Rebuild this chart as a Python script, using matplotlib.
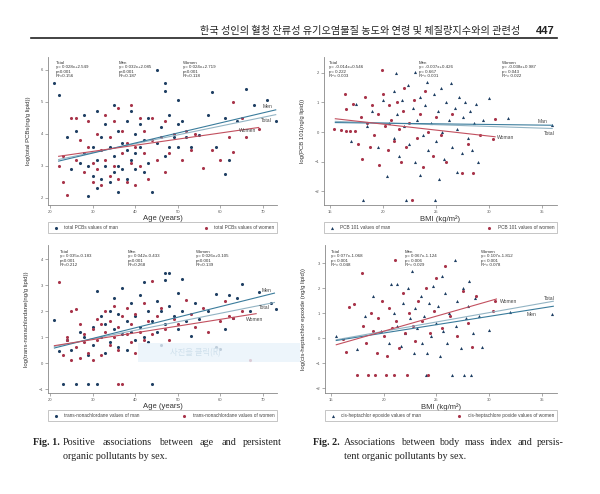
import numpy as np
import matplotlib
matplotlib.use("Agg")
import matplotlib.pyplot as plt
from matplotlib.patches import Rectangle

plt.rcParams['font.family'] = ['Liberation Sans', 'DejaVu Sans']

W, H = 600, 494

# ---- data (age / BMI, log concentration) ----
# Fig 1 top: total PCBs vs age
pcb_men = [(21,5.6),(22,5.2),(24,3.9),(25,2.9),(26,4.1),(27,3.1),(28,4.6),(28,3.4),(29,2.05),(29,3.0),
           (30,3.6),(30,2.7),(31,4.7),(31,3.2),(31,2.3),(32,3.9),(32,2.6),(33,4.3),(33,3.0),(34,3.6),
           (34,2.5),(35,4.9),(35,3.3),(35,2.8),(36,4.1),(36,3.0),(36,2.2),(37,3.7),(37,2.9),(38,4.4),
           (38,3.5),(38,2.6),(39,4.7),(39,3.2),(40,4.0),(40,3.4),(40,2.9),(41,4.3),(41,3.6),(42,3.8),
           (42,2.8),(43,4.5),(43,3.1),(44,2.2),(45,6.0),(45,3.7),(46,4.2),(47,5.6),(47,5.35),(47,3.3),
           (48,4.6),(48,3.6),(49,3.9),(50,5.05),(50,4.3),(50,3.6),(51,4.4),(52,3.9),(53,3.6),(55,3.95),
           (57,4.6),(58,5.3),(59,3.6),(61,2.75),(61,4.5),(62,3.2),(64,4.4),(66,5.4),(68,4.9),(71,5.07),(73,4.4)]
pcb_women = [(22,3.0),(23,3.3),(23,2.5),(24,2.1),(25,4.5),(26,4.5),(26,3.2),(27,3.8),(28,2.8),(29,3.6),
             (29,4.4),(30,3.1),(30,2.5),(31,4.0),(31,2.9),(32,3.5),(32,2.4),(33,4.6),(33,3.2),(34,2.7),
             (34,3.9),(35,3.0),(35,4.4),(36,4.8),(36,2.6),(37,3.4),(37,4.1),(38,2.5),(38,3.7),(39,4.9),
             (39,3.1),(40,3.6),(40,2.4),(41,4.5),(41,3.0),(42,3.4),(42,4.1),(43,2.6),(44,3.8),(44,4.5),
             (45,3.2),(46,3.9),(47,4.4),(47,2.8),(48,3.4),(49,4.0),(51,3.2),(52,4.1),(53,3.5),(54,4.0),
             (56,2.95),(58,3.5),(60,3.2),(62,3.9),(63,5.0),(63,3.45),(65,4.5),(66,3.9),(69,4.15)]

# Fig 2 top: PCB 101 vs BMI
p101_men = [(17.0,-0.3),(17.5,0.95),(18.1,-2.3),(18.5,0.2),(19.0,0.7),(19.5,-0.5),(20.0,1.1),(20.4,-1.5),
            (20.6,0.3),(21.0,1.4),(21.0,-0.2),(21.2,2.0),(21.3,0.6),(21.5,-0.8),(21.8,1.1),(22.0,0.2),
            (22.2,-2.3),(22.4,1.6),(22.5,-0.4),(22.8,0.8),(23.0,2.03),(23.0,-1.0),(23.2,0.4),(23.5,1.2),
            (23.5,-1.45),(23.8,-0.1),(24.0,0.9),(24.2,1.7),(24.3,-0.6),(24.5,0.3),(24.8,1.3),(24.9,-2.3),
            (25.0,-0.3),(25.2,0.7),(25.3,-1.6),(25.5,1.5),(25.6,0.0),(25.8,-0.9),(26.0,1.0),(26.2,0.4),
            (26.4,1.65),(26.5,-0.5),(26.8,0.8),(27.0,-1.35),(27.0,0.1),(27.2,1.2),(27.5,-0.7),(27.6,0.5),
            (27.8,1.0),(28.0,-0.2),(28.2,0.7),(28.4,-0.6),(28.6,0.3),(28.8,0.95),(29.0,-1.0),(29.5,0.4),
            (30.0,1.16),(31.8,0.49),(36.0,0.23)]
p101_women = [(15.4,0.1),(16.0,0.06),(16.5,0.05),(16.9,0.05),(17.4,0.03),(16.4,1.28),(16.5,0.77),(17.2,0.94),
              (17.6,-0.4),(17.9,0.5),(18.0,-0.9),(18.3,1.2),(18.5,0.3),(18.8,-0.5),(19.0,0.9),(19.2,-0.1),
              (19.5,0.6),(19.6,-1.1),(19.9,2.1),(20.0,1.3),(20.2,0.2),(20.5,-0.6),(20.6,0.9),(20.8,0.4),
              (21.0,-0.3),(21.3,1.0),(21.5,0.1),(21.7,-1.0),(21.9,0.7),(22.0,1.5),(22.2,-0.5),(22.5,0.3),
              (22.7,-2.3),(22.9,1.1),(23.2,-0.2),(23.5,0.6),(23.8,-1.2),(24.0,1.4),(24.3,0.0),(24.7,-0.8),
              (25.0,0.5),(25.5,-0.1),(26.0,-1.0),(26.5,0.6),(27.5,-1.4),(28.0,-0.4),(28.5,-1.4),(29.2,-0.1),
              (30.4,-0.23),(30.6,0.45)]

# Fig 1 bottom: trans-nonachlordane vs age
tnc_men = [(21,1.64),(22,0.45),(23,-0.8),(24,0.9),(25,0.5),(26,-0.8),(27,1.2),(28,1.0),(29,-0.8),(29,0.3),
           (30,1.4),(30,0.7),(31,-0.8),(31,2.76),(32,1.8),(32,1.0),(33,0.4),(33,1.5),(34,2.0),(34,0.8),
           (35,1.3),(35,2.5),(36,0.6),(36,1.9),(37,1.1),(37,2.9),(38,1.6),(38,0.5),(39,2.3),(39,1.2),
           (40,0.9),(40,1.8),(41,2.6),(41,1.4),(42,3.12),(42,1.0),(43,2.0),(43,0.8),(44,-0.8),(44,1.6),
           (45,2.4),(45,1.2),(46,0.68),(46,2.0),(47,3.46),(47,1.5),(47,3.2),(48,3.47),(48,2.2),(49,1.8),
           (50,2.7),(50,1.3),(51,3.23),(51,2.0),(52,1.6),(53,1.03),(54,2.3),(55,1.7),(57,2.0),(59,2.65),
           (59,0.62),(60,0.55),(61,1.3),(62,2.6),(63,1.73),(64,2.49),(65,3.04),(67,2.0),(69,2.73),(72,2.31),(73,2.08)]
tnc_women = [(22,3.1),(23,0.3),(24,0.9),(24,1.0),(25,2.0),(25,0.1),(26,2.09),(26,0.6),(27,1.5),(27,0.2),
             (28,1.1),(28,0.8),(29,0.4),(30,1.3),(30,0.1),(31,0.9),(31,1.7),(32,1.5),(32,0.3),(33,1.2),
             (33,2.0),(34,0.7),(34,1.6),(35,1.0),(35,2.2),(36,-0.8),(36,1.4),(36,0.5),(37,-0.8),(37,1.8),
             (38,1.1),(38,2.1),(39,0.8),(39,1.5),(40,1.9),(40,0.4),(41,1.2),(42,2.3),(42,0.9),(43,1.6),
             (44,3.14),(44,1.1),(45,1.8),(46,2.1),(47,1.3),(48,0.9),(49,1.7),(50,1.5),(52,2.41),(53,1.9),
             (54,1.4),(56,2.1),(57,1.2),(60,1.6),(61,2.4),(62,1.8),(63,1.75),(65,2.0),(67,0.1)]

# Fig 2 bottom: cis-heptachlor epoxide vs BMI
che_men = [(15.5,0.09),(17.5,-0.44),(18.2,0.9),(19.0,1.69),(19.7,0.3),(20.5,-0.2),(20.7,2.17),(21.0,1.0),
           (21.3,0.5),(21.3,2.17),(21.6,-0.3),(21.8,1.4),(22.0,0.2),(22.3,2.0),(22.5,0.8),(22.7,2.67),
           (22.9,-0.6),(23.0,1.2),(23.2,0.4),(23.5,1.7),(23.6,-0.2),(23.8,0.9),(24.0,-1.49),(24.1,-0.6),
           (24.3,1.4),(24.5,0.1),(24.7,2.1),(25.0,0.6),(25.2,1.3),(25.3,-0.7),(25.5,2.5),(25.6,0.3),
           (25.8,1.8),(26.0,-0.2),(26.2,1.0),(26.5,-1.49),(26.8,3.13),(26.9,0.5),(27.0,1.5),(27.3,-0.4),
           (27.5,2.0),(27.6,-1.49),(27.8,0.8),(28.0,1.3),(28.1,2.27),(28.3,-1.49),(28.5,0.2),(28.7,1.6),
           (29.0,0.9),(29.3,-0.36),(30.0,0.33),(32.0,1.03),(36.0,0.97)]
che_women = [(16.1,-0.04),(16.4,-0.57),(16.7,1.23),(17.2,1.37),(17.9,2.6),(17.5,-1.49),(18.0,0.5),(18.3,-0.2),
             (18.5,-1.49),(18.8,1.0),(19.0,0.3),(19.2,-1.49),(19.4,-0.6),(19.5,0.8),(19.8,1.5),(20.0,0.1),
             (20.2,-1.49),(20.3,-0.73),(20.5,1.2),(20.8,0.4),(21.0,-1.49),(21.1,3.13),(21.2,0.7),(21.5,-0.4),
             (21.8,1.8),(22.0,0.2),(22.2,-1.49),(22.4,1.0),(22.8,0.5),(23.0,-0.1),(23.3,1.5),(23.6,0.7),
             (24.0,2.0),(24.2,-1.49),(24.4,0.2),(24.8,1.1),(25.0,2.4),(25.5,0.4),(25.8,2.87),(26.3,0.9),
             (27.0,0.1),(27.5,1.9),(28.0,0.6),(28.4,-0.36),(28.8,1.7),(30.4,1.1),(30.6,1.47)]

# fitted lines as drawn (x ends, y ends)
fits = {
    "pcb":  {"Men": ([22, 73], [3.15, 4.75]), "Total": ([22, 73], [3.2, 4.6]), "Women": ([22, 69], [3.3, 4.2])},
    "p101": {"Men": ([15.5, 36], [0.32, 0.23]), "Total": ([15.5, 36], [0.36, 0.12]), "Women": ([15.5, 30.6], [0.45, -0.16])},
    "tnc":  {"Men": ([21, 72.7], [0.58, 2.69]), "Total": ([21, 72.7], [0.64, 2.33]), "Women": ([21, 68.4], [0.67, 1.9])},
    "che":  {"Men": ([15.5, 36.1], [-0.1, 1.27]), "Total": ([15.5, 36.1], [-0.07, 1.47]), "Women": ([15.5, 30.7], [-0.27, 1.56])},
}

stats_pcb = ["Total\ny= 0.028x+2.549\np<0.001\nR²=0.156",
             "Men\ny= 0.032x+2.085\np<0.001\nR²=0.187",
             "Women\ny= 0.024x+2.719\np<0.001\nR²=0.118"]
stats_p101 = ["Total\ny= -0.014x+0.546\np= 0.222\nR²= 0.003",
              "Men\ny= -0.007x+0.426\np= 0.667\nR²= 0.001",
              "Women\ny= -0.038x+0.987\np= 0.043\nR²= 0.022"]
stats_tnc = ["Total\ny= 0.035x-0.183\np<0.001\nR²=0.212",
             "Men\ny= 0.042x-0.433\np<0.001\nR²=0.268",
             "Women\ny= 0.026x+0.105\np<0.001\nR²=0.139"]
stats_che = ["Total\ny= 0.077x-1.068\np< 0.001\nR²= 0.048",
             "Men\ny= 0.067x-1.124\np= 0.006\nR²= 0.029",
             "Women\ny= 0.107x-1.812\np< 0.001\nR²= 0.078"]

cap1 = ["Positive associations between age and persistent", "organic pollutants by sex."]
cap2 = ["Associations between body mass index and persis-", "tent organic pollutants by sex."]

men_c = "#1f3f63"
women_c = "#a8344a"
line_c = {"Men": "#3b7c9c", "Total": "#93b4c4", "Women": "#c2505f"}

fig = plt.figure(figsize=(W / 100, H / 100), dpi=100)
fig.patch.set_facecolor("white")


def fx(x):
    return x / W


def fy(y):
    return 1 - y / H


def panel(l, t, r, b, xlim, ylim, xticks, yticks):
    ax = fig.add_axes([fx(l), fy(b), (r - l) / W, (b - t) / H])
    ax.set_xlim(*xlim)
    ax.set_ylim(*ylim)
    ax.set_xticks(xticks)
    ax.set_yticks(yticks)
    for s in ["top", "right"]:
        ax.spines[s].set_visible(False)
    for s in ["left", "bottom"]:
        ax.spines[s].set_color("#888888")
        ax.spines[s].set_linewidth(0.6)
    ax.tick_params(labelsize=3, length=2, width=0.5, color="#888888", labelcolor="#555555", pad=1.5)
    return ax


def draw(ax, men, women, fit, labels, men_marker, xlab, ylab, leg, stats, stat_px, stat_top):
    m = np.array(men)
    w = np.array(women)
    ax.scatter(m[:, 0], m[:, 1], s=5, marker=men_marker, color=men_c, linewidths=0, zorder=3,
               label=leg[0])
    ax.scatter(w[:, 0], w[:, 1], s=5, marker="o", color=women_c, linewidths=0, zorder=3,
               label=leg[1])
    for k in ["Total", "Men", "Women"]:
        xs, ys = fit[k]
        ax.plot(xs, ys, color=line_c[k], lw=0.8, zorder=4)
    for txt, (lx, ly) in labels:
        ax.text(lx, ly, txt, fontsize=3.6, color="#444444", va="center", zorder=5)
    ax.set_xlabel(xlab, fontsize=5.5, color="#333333", labelpad=1)
    ax.set_ylabel(ylab, fontsize=4.3, color="#333333", labelpad=7)
    lg = ax.legend(loc="upper left", bbox_to_anchor=(0, -0.115, 1, 0), mode="expand", ncol=2,
                   fontsize=3.4, frameon=True, fancybox=False, edgecolor="#999999",
                   handletextpad=0.8, borderpad=0.6, markerscale=1.0, borderaxespad=0)
    lg.get_frame().set_linewidth(0.5)
    for txt in lg.get_texts():
        txt.set_color("#444444")
    for s, xp in zip(stats, stat_px):
        fig.text(fx(xp), fy(stat_top), s, fontsize=3.2, va="top", ha="left",
                 color="#333333", linespacing=1.15)


def justify(line, x0, x1, y, **kw):
    # spread words over the column width like the typeset page
    r = fig.canvas.get_renderer()
    words = line.split()
    widths = []
    for wd in words:
        t = fig.text(0, 0, wd, **kw)
        widths.append(t.get_window_extent(r).width)
        t.remove()
    gap = (x1 - x0 - sum(widths)) / (len(words) - 1)
    x = x0
    for wd, wdt in zip(words, widths):
        fig.text(fx(x), fy(y), wd, va="center", **kw)
        x += wdt + gap


# top-left: Fig. 1 total PCBs
ax1 = panel(48, 57, 277, 205, (19.5, 73.3), (1.78, 6.4), [20, 30, 40, 50, 60, 70], [2, 3, 4, 5, 6])
draw(ax1, pcb_men, pcb_women, fits["pcb"],
     [("Men", (70.0, 4.85)), ("Total", (69.6, 4.42)), ("Women", (64.4, 4.12))], "o",
     "Age (years)", "log(total PCBs(ng/g lipid))",
     ["total PCBs values of man", "total PCBs values of women"],
     stats_pcb, [56, 119, 183], 61)

# top-right: Fig. 2 PCB 101
ax2 = panel(324, 57, 557, 205, (14.43, 36.45), (-2.47, 2.54), [15, 20, 25, 30, 35], [-2, -1, 0, 1, 2])
draw(ax2, p101_men, p101_women, fits["p101"],
     [("Man", (34.6, 0.37)), ("Total", (35.2, -0.05)), ("Woman", (30.8, -0.2))], "^",
     "BMI (kg/m²)", "log(PCB 101(ng/g lipid))",
     ["PCB 101 values of man", "PCB 101 values of women"],
     stats_p101, [329, 419, 502], 61)

# bottom-left: Fig. 1 trans-nonachlordane
ax3 = panel(48, 245, 277, 393, (19.5, 73.3), (-1.15, 4.54), [20, 30, 40, 50, 60, 70], [-1, 0, 1, 2, 3, 4])
draw(ax3, tnc_men, tnc_women, fits["tnc"],
     [("Men", (69.8, 2.8)), ("Total", (69.1, 2.14)), ("Women", (66.1, 1.69))], "o",
     "Age (years)", "log(trans-nonachlordane(ng/g lipid))",
     ["trans-nonachlordane values of man", "trans-nonachlordane values of women"],
     stats_tnc, [60, 128, 196], 250)

# bottom-right: Fig. 2 cis-heptachlor epoxide
ax4 = panel(325, 245, 557, 393, (14.43, 36.45), (-2.2, 3.72), [15, 20, 25, 30, 35], [-2, -1, 0, 1, 2, 3])
draw(ax4, che_men, che_women, fits["che"],
     [("Women", (31.0, 1.47)), ("Total", (35.2, 1.6)), ("Men", (33.6, 0.96))], "^",
     "BMI (kg/m²)", "log(cis-heptachlor epoxide (ng/g lipid))",
     ["cis-heptachlor epoxide values of man", "cis-heptachlore poxide values of women"],
     stats_che, [331, 405, 481], 250)

# faint screen-capture overlay on lower-left panel
fig.patches.append(Rectangle((fx(138), fy(362)), (300 - 138) / W, 19 / H, transform=fig.transFigure,
                             facecolor="#e9f3fa", edgecolor="none", alpha=0.8, zorder=10))
fig.text(fx(170), fy(353), "사진을 클릭(R)", fontsize=6, color="#cfe0ec", va="center",
         family=["Noto Sans CJK KR", "DejaVu Sans"], zorder=11)

# running header
fig.text(fx(520), fy(31), "한국 성인의 혈청 잔류성 유기오염물질 농도와 연령 및 체질량지수와의 관련성",
         fontsize=7.3, ha="right", va="center", color="#222222",
         family=["Noto Sans CJK KR", "DejaVu Sans"])
fig.text(fx(555), fy(31), "447", fontsize=8, ha="right", va="center", weight="bold", color="#222222")
fig.add_artist(plt.Line2D([fx(31), fx(557)], [fy(38), fy(38)], color="#222222", lw=1.2))

# captions
serif = dict(fontsize=7.3, family=["Liberation Serif", "DejaVu Serif"], color="#222222")
fig.text(fx(33), fy(442), "Fig. 1.", weight="bold", va="center", **serif)
justify(cap1[0], 63, 282, 442, **serif)
fig.text(fx(63), fy(456), cap1[1], va="center", **serif)
fig.text(fx(313), fy(442), "Fig. 2.", weight="bold", va="center", **serif)
justify(cap2[0], 344, 564, 442, **serif)
fig.text(fx(344), fy(456), cap2[1], va="center", **serif)

fig.savefig("out.png", dpi=100)
